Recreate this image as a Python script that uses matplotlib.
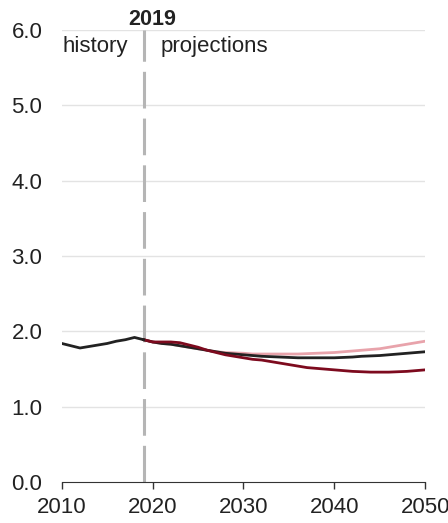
import matplotlib.pyplot as plt
import numpy as np

plt.rcParams['font.family'] = ['Liberation Sans', 'DejaVu Sans']

hist_years = list(range(2010, 2020))
hist_vals = [1.84, 1.81, 1.78, 1.80, 1.82, 1.84, 1.87, 1.89, 1.92, 1.89]

proj_years = list(range(2019, 2051))
low_vals = [1.89, 1.86, 1.86, 1.86, 1.85, 1.82, 1.79, 1.75, 1.72, 1.69, 1.67,
            1.65, 1.63, 1.62, 1.60, 1.58, 1.56, 1.54, 1.52, 1.51, 1.50,
            1.49, 1.48, 1.47, 1.465, 1.46, 1.46, 1.46, 1.465, 1.47, 1.48, 1.49]
ref_vals = [1.89, 1.86, 1.84, 1.83, 1.81, 1.79, 1.77, 1.75, 1.73, 1.71, 1.70,
            1.69, 1.68, 1.67, 1.665, 1.66, 1.655, 1.65, 1.65, 1.65, 1.65,
            1.65, 1.655, 1.66, 1.67, 1.675, 1.68, 1.69, 1.70, 1.71, 1.72, 1.73]
high_vals = [1.89, 1.86, 1.84, 1.83, 1.81, 1.79, 1.77, 1.75, 1.73, 1.72, 1.715,
             1.71, 1.70, 1.70, 1.70, 1.70, 1.70, 1.70, 1.705, 1.71, 1.715,
             1.72, 1.73, 1.74, 1.75, 1.76, 1.77, 1.79, 1.81, 1.83, 1.85, 1.87]

fig = plt.figure(figsize=(4.48, 5.23), dpi=100)
ax = fig.add_axes([0.138, 0.078, 0.811, 0.865])

ax.set_xlim(2010, 2050)
ax.set_ylim(0, 6)
ax.set_yticks(np.arange(0, 6.1, 1.0))
ax.set_yticklabels([f'{v:.1f}' for v in np.arange(0, 6.1, 1.0)])
ax.set_xticks([2010, 2020, 2030, 2040, 2050])

for v in np.arange(1, 6.1, 1.0):
    ax.axhline(v, color='#e3e3e3', lw=1, zorder=0)

ax.plot(proj_years, high_vals, color='#e8a3ab', lw=2, zorder=2)
ax.plot(proj_years, ref_vals, color='#222222', lw=2, zorder=3)
ax.plot(proj_years, low_vals, color='#7d0a1e', lw=2, zorder=4)
ax.plot(hist_years, hist_vals, color='#222222', lw=2, zorder=5)

ax.axvline(2019, color='#b5b5b5', lw=2.2, dashes=(12, 3.3), zorder=1)

for s in ['top', 'right', 'left']:
    ax.spines[s].set_visible(False)
ax.spines['bottom'].set_color('#333333')
ax.tick_params(axis='y', length=0, pad=14, labelsize=16, colors='#222222')
ax.tick_params(axis='x', length=5, width=1, color='#333333', pad=6,
               labelsize=16, labelcolor='#222222')

ax.text(2020, 6.067, '2019', ha='center', va='baseline', fontsize=15.5,
        fontweight='bold', color='#222222')
ax.text(2010.1, 5.71, 'history', ha='left', va='baseline', fontsize=16,
        color='#222222')
ax.text(2020.9, 5.71, 'projections', ha='left', va='baseline', fontsize=16,
        color='#222222')

fig.savefig('out.png', dpi=100)
